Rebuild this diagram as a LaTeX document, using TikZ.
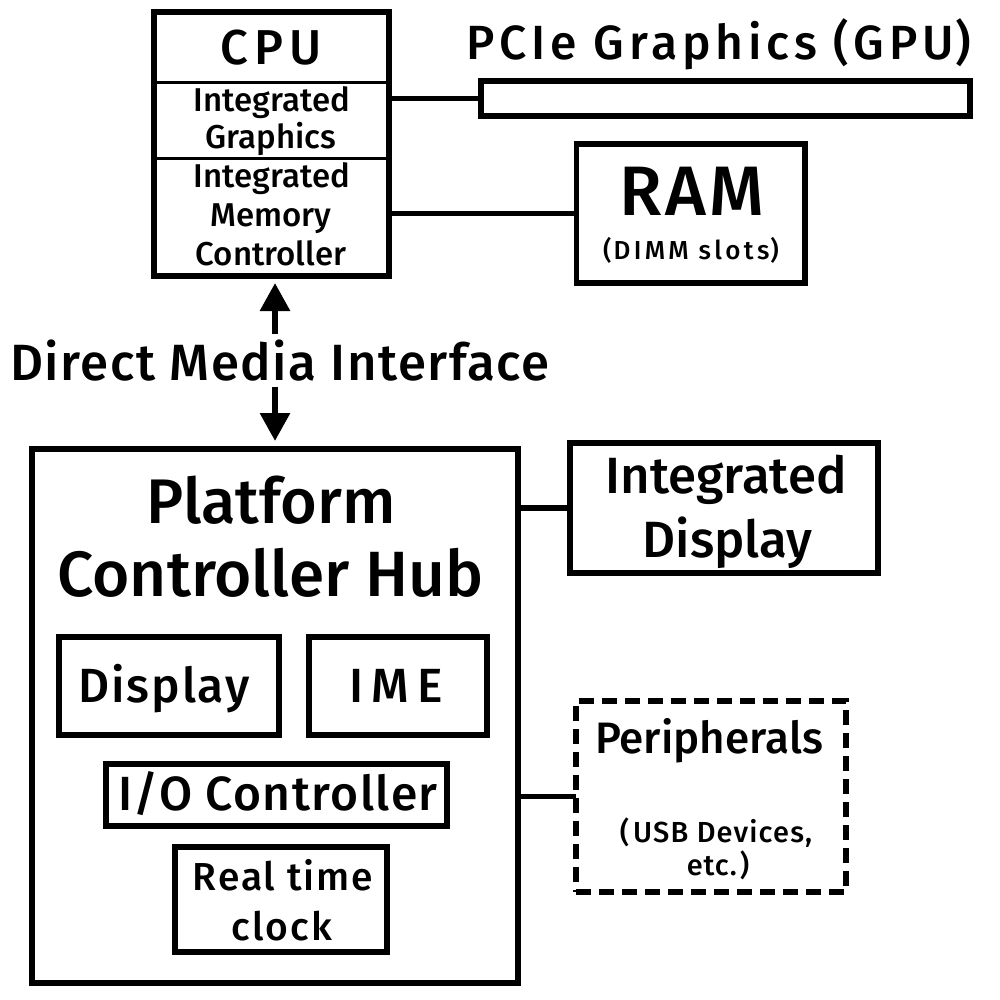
\documentclass[tikz,border=0pt]{standalone}
\usepackage{fontspec}
\IfFontExistsTF{Fira Sans Medium}{\setmainfont{Fira Sans Medium}}{\setmainfont{Fira Sans}[FakeBold=2]}
\usetikzlibrary{arrows.meta}
\newcommand\fs[1]{\fontsize{#1}{#1}\selectfont}
\newcommand\ls[1]{\addfontfeature{LetterSpace=#1}}
\tikzset{
  box/.style={draw, line width=5.5pt, inner sep=0pt, outer sep=0pt, fill=white},
  dbox/.style={box, dash pattern=on 15pt off 8pt},
  txt/.style={anchor=base, inner sep=0pt, outer sep=0pt},
  wire/.style={line width=5.5pt},
  divider/.style={line width=3pt},
  dmiarrow/.style={line width=6pt, -{Triangle[length=28pt, width=29pt]}},
}
\begin{document}
\begin{tikzpicture}[x=1pt, y=-1pt]
\useasboundingbox (0,0) rectangle (1000,1000);

% CPU
\node[box, minimum width=235pt, minimum height=264pt] (cpu) at (271.5,144) {};
\draw[divider] (cpu.west |- 0,83) coordinate (d1w) -- (cpu.east |- 0,83) coordinate (d1e);
\draw[divider] (cpu.west |- 0,159) coordinate (d2w) -- (cpu.east |- 0,159) coordinate (d2e);
\node[txt, font=\fs{49}] (cputxt) at (271,65) {C\hspace{6pt}P\hspace{6pt}U};
\node[txt, font=\fs{33}] (ig1) at (272,112) {Integrated};
\node[txt, font=\fs{33}] (ig2) at (271,149) {Graphics};
\node[txt, font=\fs{33}] (im1) at (272,188) {Integrated};
\node[txt, font=\fs{33}] (im2) at (271,226) {Memory};
\node[txt, font=\fs{33}] (im3) at (271,265) {Controller};

% GPU
\node[box, minimum width=489pt, minimum height=35pt] (gpu) at (725.5,98.5) {};
\node[txt, font=\fs{48}\ls{10}] (gputxt) at (719,60) {PCIe Graphics\hspace{16pt}(\hspace{5pt}GPU\hspace{2pt})};
\draw[wire] (cpu.east |- gpu.west) -- (gpu.west);

% RAM
\node[box, minimum width=228.5pt, minimum height=139pt] (ram) at (690.75,213.5) {};
\node[txt, font=\fs{70}\ls{5}] (ramtxt) at (692,215) {RAM};
\node[txt, font=\fs{26}\ls{13}] (dimm) at (691,259) {(\hspace{2pt}DIMM slots\hspace{1pt})};
\draw[wire] (cpu.east |- ram.west) -- (ram.west);

% DMI
\node[txt, font=\fs{51}\ls{3}] (dmi) at (280,380) {Direct Media Interface};
\coordinate (dmitop) at (275,334);
\coordinate (dmibot) at (275,387);

% PCH
\node[box, minimum width=486pt, minimum height=534pt] (pch) at (275,716) {};
\node[txt, font=\fs{63}] (pch1) at (271,523) {Platform};
\node[txt, font=\fs{64}] (pch2) at (270.5,596) {Controller Hub};

\node[box, minimum width=220pt, minimum height=98pt] (disp) at (169,686) {};
\node[txt, font=\fs{48}\ls{4}] (disptxt) at (164,702) {Display};
\node[box, minimum width=178pt, minimum height=98pt] (ime) at (398,686) {};
\node[txt, font=\fs{48}] (imetxt) at (396,702) {I\hspace{8pt}M\hspace{8pt}E};
\node[box, minimum width=341pt, minimum height=62pt] (io) at (276.5,795) {};
\node[txt, font=\fs{48}\ls{3}] (iotxt) at (278,810) {I/O Controller};
\node[box, minimum width=212pt, minimum height=105pt] (rtc) at (281,899.5) {};
\node[txt, font=\fs{39}\ls{5}] (rtc1) at (283,890) {Real time};
\node[txt, font=\fs{39}\ls{6}] (rtc2) at (282,940) {clock};

% arrows
\draw[dmiarrow, shorten >=7pt] (dmitop) -- (dmitop |- cpu.south);
\draw[dmiarrow, shorten >=8pt] (dmibot) -- (dmibot |- pch.north);

% Integrated display
\node[box, minimum width=308pt, minimum height=130pt] (idisp) at (724,508) {};
\node[txt, font=\fs{51}] (id1) at (726,493) {Integrated};
\node[txt, font=\fs{51}] (id2) at (727.5,557) {Display};
\draw[wire] (pch.east |- idisp.west) -- (idisp.west);

% Peripherals
\node[dbox, minimum width=270pt, minimum height=191pt] (peri) at (711,796.5) {};
\node[txt, font=\fs{44}] (pe1) at (709,753) {Peripherals};
\node[txt, font=\fs{29}\ls{4}] (pe2) at (716,842) {(\hspace{4pt}USB Devices,};
\node[txt, font=\fs{29}\ls{3}] (pe3) at (718,875) {etc.\hspace{3pt})};
\draw[wire] (pch.east |- peri.west) -- (peri.west);
\end{tikzpicture}
\end{document}
